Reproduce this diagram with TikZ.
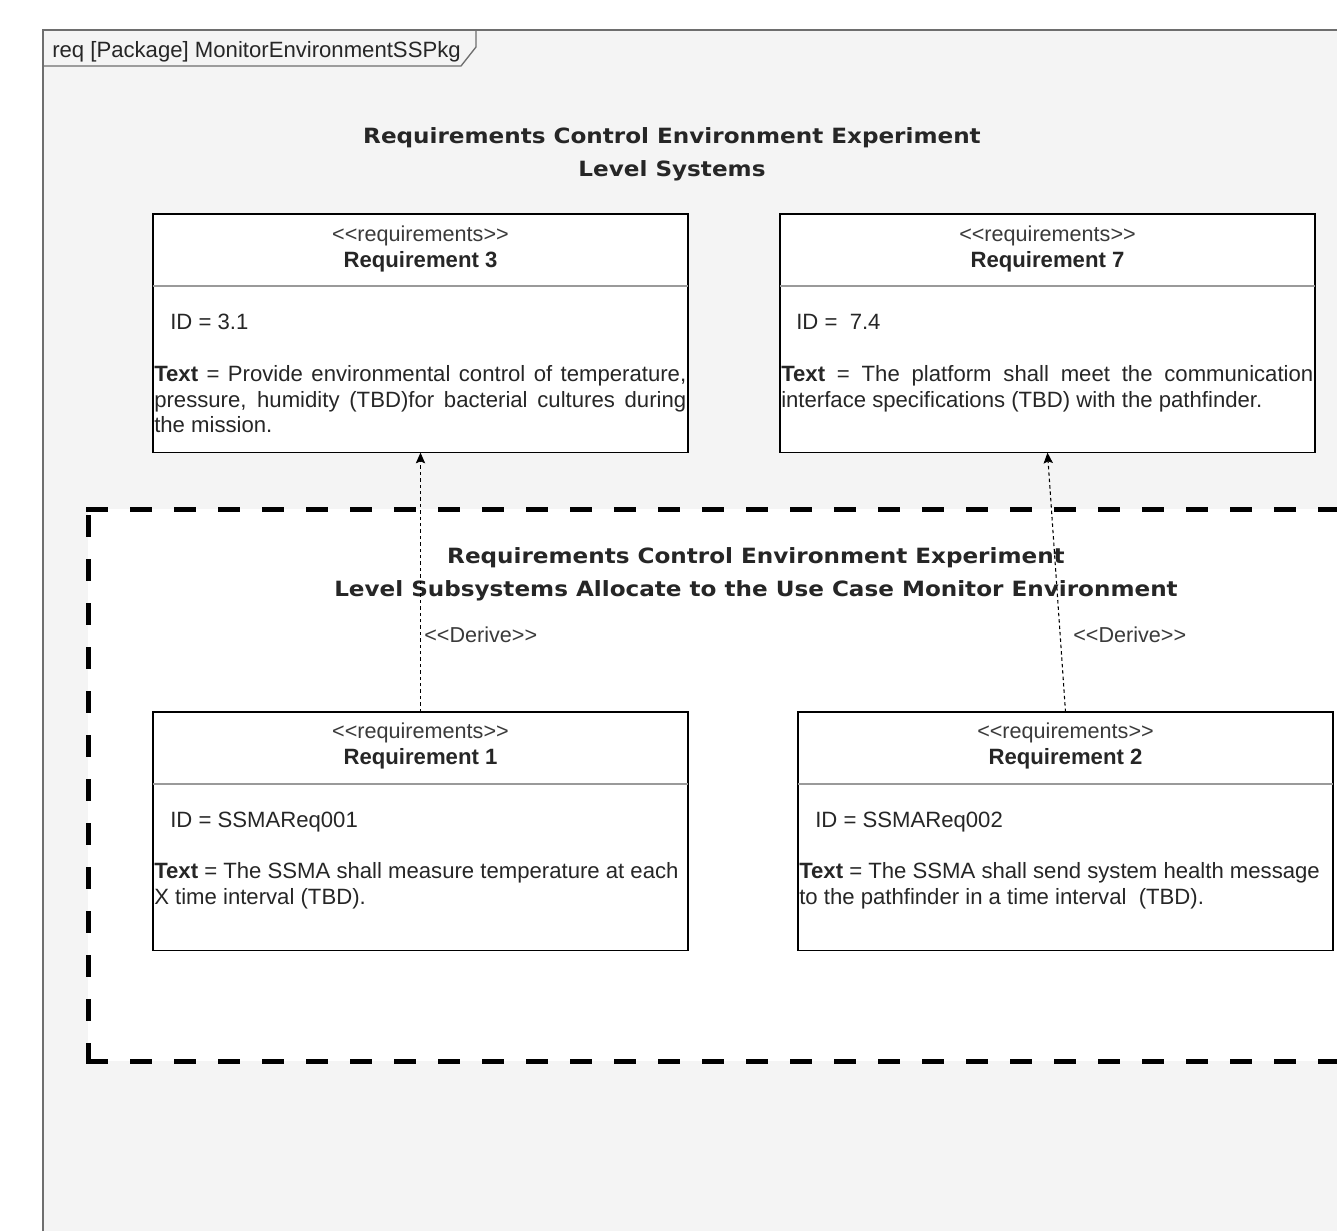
\documentclass[tikz,border=0pt]{standalone}
\usepackage{fontspec}
\setmainfont{Liberation Sans}[Ligatures=TeXOff]
\newfontfamily\titlefont[FakeStretch=1.1]{DejaVu Sans}
\usetikzlibrary{arrows.meta}
\definecolor{framebg}{HTML}{F4F4F4}
\definecolor{framecol}{HTML}{6E6E6E}
\definecolor{txt}{HTML}{262626}
\definecolor{lighttxt}{HTML}{3A3A3A}
\definecolor{sepcol}{HTML}{9A9A9A}
\newcommand\bodyfs{\fontsize{16.6pt}{19.1pt}\selectfont}
\newcommand\titlefs{\fontsize{15.75pt}{24.75pt}\selectfont}
\tikzset{
  reqbox/.style={draw=black, fill=white, line width=1.1pt, inner sep=0pt, outer sep=0pt,
    minimum width=401.25pt, minimum height=179pt, anchor=north west},
  sepline/.style={draw=sepcol, line width=1.2pt},
  stereo/.style={inner sep=0pt, text=lighttxt, font=\fontsize{16.2pt}{19pt}\selectfont, text height=12pt, text depth=3.5pt},
  reqname/.style={inner sep=0pt, text=txt, font=\bodyfs\bfseries, text height=12pt, text depth=3.5pt},
  bodyline/.style={inner sep=0pt, anchor=west, text=txt, font=\bodyfs, text height=12pt, text depth=3.5pt},
  titletext/.style={inner sep=0pt, align=center, text=txt, font=\titlefont\titlefs\bfseries},
  zone/.style={draw=black, line width=3.75pt, dash pattern=on 16.5pt off 16.5pt},
  derive/.style={draw=black, line width=0.8pt, dash pattern=on 2.6pt off 2.2pt,
    -{Stealth[length=8pt,width=7pt,inset=1.5pt]}},
  derivelabel/.style={inner sep=0pt, anchor=west, text=lighttxt, font=\fontsize{16.2pt}{18pt}\selectfont, text height=12pt, text depth=3.5pt}
}
\begin{document}
\begin{tikzpicture}[x=0.75pt,y=-0.75pt]
\useasboundingbox (0,0) rectangle (1337,1231);
\fill[white] (0,0) rectangle (1337,1231);
% package frame
\fill[framebg] (43,30) rectangle (1337,1231);
\draw[framecol, line width=1.2pt] (43,1231) -- (43,30) -- (1337,30);
\draw[framecol, line width=1pt] (43,66) -- (461,66) -- (476,47) -- (476,30);
\node[bodyline] (tab) at (52,52) {req [Package] MonitorEnvironmentSSPkg};

% title top
\node[titletext] (title1) at (672,154) {Requirements Control Environment Experiment\\Level Systems};

% dashed zone
\fill[white] (88,509) rectangle (1337,1061);
\draw[zone] (86,509) -- (1337,509);
\draw[zone, dash phase=28.5pt] (88,509) -- (88,1063);
\draw[zone] (86,1061) -- (1337,1061);
\node[titletext] (title2) at (756,574) {Requirements Control Environment Experiment\\Level Subsystems Allocate to the Use Case Monitor Environment};

% Requirement 3
\node[reqbox] (r3) at (153,214) {};
\draw[sepline] (153,286) -- (688,286);
\node[stereo] (r3s) at (420.5,236) {<<requirements>>};
\node[reqname] (r3n) at (420.5,262) {Requirement 3};
\node[bodyline] (r3id) at (170,324) {ID = 3.1};
\node[bodyline] (r3t1) at (154,376) {\makebox[399pt][s]{\textbf{Text} = Provide environmental control of temperature,}};
\node[bodyline] (r3t2) at (154,401.5) {\makebox[399pt][s]{pressure, humidity (TBD)for bacterial cultures during}};
\node[bodyline] (r3t3) at (154,427) {the mission.};

% Requirement 7
\node[reqbox] (r7) at (780,214) {};
\draw[sepline] (780,286) -- (1315,286);
\node[stereo] (r7s) at (1047.5,236) {<<requirements>>};
\node[reqname] (r7n) at (1047.5,262) {Requirement 7};
\node[bodyline] (r7id) at (796,324) {ID =\ \ 7.4};
\node[bodyline] (r7t1) at (781,376) {\makebox[399pt][s]{\textbf{Text} = The platform shall meet the communication}};
\node[bodyline] (r7t2) at (781,401.5) {interface specifications (TBD) with the pathfinder.};

% Requirement 1
\node[reqbox] (r1) at (153,712) {};
\draw[sepline] (153,784) -- (688,784);
\node[stereo] (r1s) at (420.5,733) {<<requirements>>};
\node[reqname] (r1n) at (420.5,759) {Requirement 1};
\node[bodyline] (r1id) at (170,822) {ID = SSMAReq001};
\node[bodyline] (r1t1) at (154,873) {\textbf{Text} = The SSMA shall measure temperature at each};
\node[bodyline] (r1t2) at (154,899) {X time interval (TBD).};

% Requirement 2
\node[reqbox] (r2) at (798,712) {};
\draw[sepline] (798,784) -- (1333,784);
\node[stereo] (r2s) at (1065.5,733) {<<requirements>>};
\node[reqname] (r2n) at (1065.5,759) {Requirement 2};
\node[bodyline] (r2id) at (815,822) {ID = SSMAReq002};
\node[bodyline] (r2t1) at (799,873) {\textbf{Text} = The SSMA shall send system health message};
\node[bodyline] (r2t2) at (799,899) {to the pathfinder in a time interval\ \ (TBD).};

% derive connectors
\draw[derive] (r1.north) -- (r3.south);
\draw[derive] (r2.north) -- (r7.south);
\node[derivelabel] (d1) at (424,637) {<<Derive>>};
\node[derivelabel] (d2) at (1073,637) {<<Derive>>};
\end{tikzpicture}
\end{document}
